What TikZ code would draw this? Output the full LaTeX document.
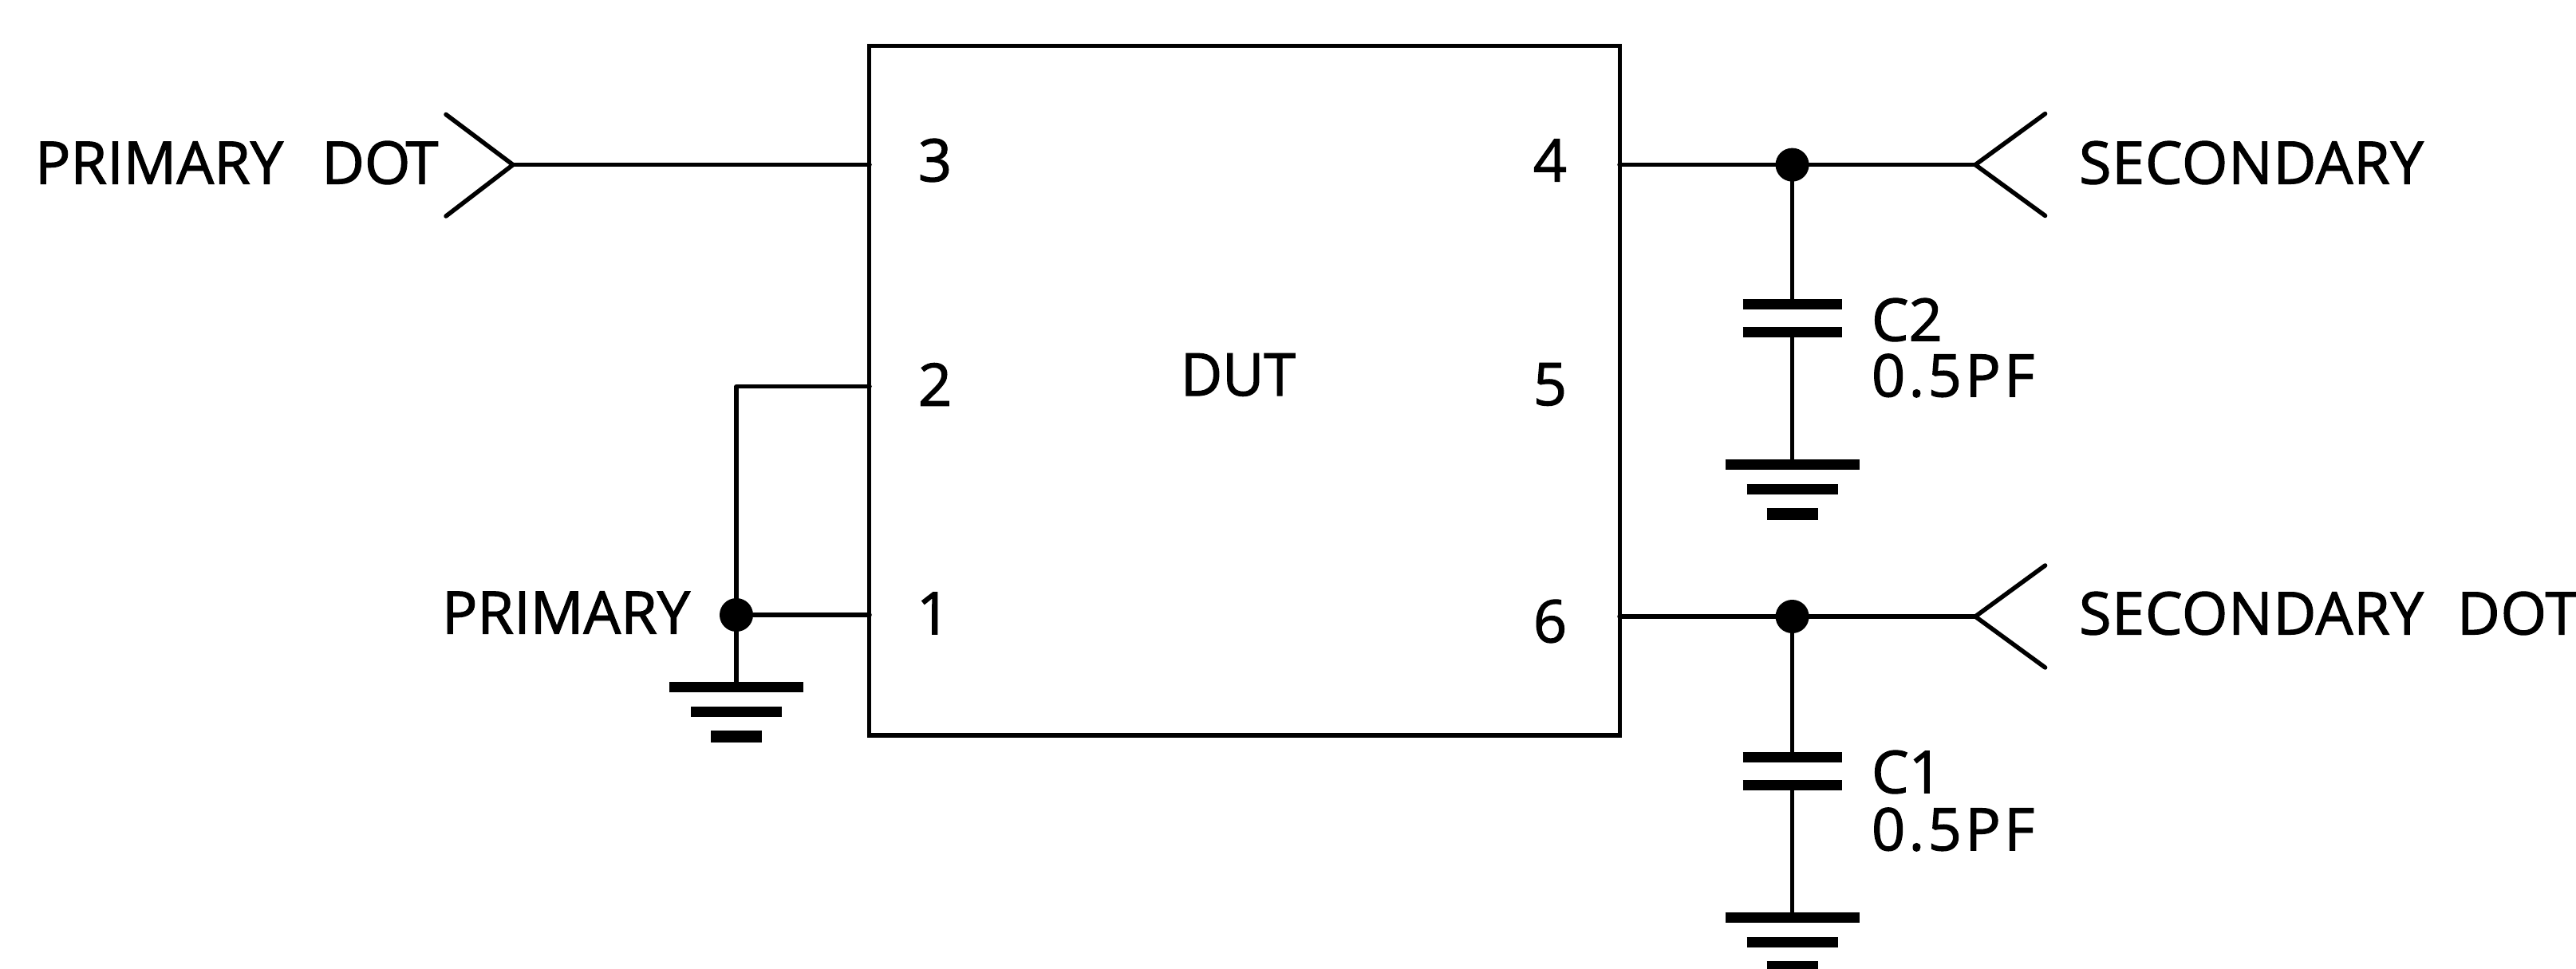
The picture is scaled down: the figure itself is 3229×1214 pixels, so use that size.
\documentclass[tikz,border=0pt]{standalone}
\usepackage{fontspec}
\setmainfont[FakeBold=1.6]{Open Sans}
\newfontfamily\wider[FakeBold=1.6,LetterSpace=6]{Open Sans}
\newfontfamily\slight[FakeBold=1.6,LetterSpace=1]{Open Sans}
\tikzset{
  x=0.01cm,y=-0.01cm,
  wire/.style={line width=0.055cm,line cap=round,line join=round},
  plate/.style={line width=0.13cm},
  lbl/.style={inner sep=0pt,outer sep=0pt,anchor=west,font=\fontsize{21}{21}\selectfont},
  pin/.style={inner sep=0pt,outer sep=0pt,font=\fontsize{21}{21}\selectfont},
  jdot/.style={circle,fill=black,draw=none,minimum size=0.42cm,inner sep=0pt,outer sep=0pt},
  dutbox/.style={draw,line width=0.055cm,minimum width=9.4cm,minimum height=8.64cm,inner sep=0pt,outer sep=0pt}
}
\newcommand{\gnd}[2]{%
  \draw[plate] (#1-84,#2) -- (#1+84,#2);
  \draw[plate] (#1-57,#2+31) -- (#1+57,#2+31);
  \draw[plate,line width=0.15cm] (#1-32,#2+62) -- (#1+32,#2+62);}
\newcommand{\capac}[2]{%
  \draw[plate] (#1-62,#2) -- (#1+62,#2);
  \draw[plate] (#1-62,#2+35) -- (#1+62,#2+35);}
\begin{document}
\begin{tikzpicture}
\useasboundingbox (0,0) rectangle (3229,1214);
\node[dutbox] (dut) at (1560,489.5) {};
\node[pin] (p3) at (1172,201) {3};
\node[pin] (p2) at (1172,482) {2};
\node[pin] (p1) at (1170,769) {1};
\node[pin] (p4) at (1943,201) {4};
\node[pin] (p5) at (1943,482) {5};
\node[pin] (p6) at (1943,779) {6};
\node[pin,xscale=0.97] (dutlabel) at (1552,470) {DUT};
\node[lbl] (lpd) at (44,204) {PRIMARY\hspace{0.48cm}DO\kern-0.06cm T};
\node[lbl] (lp) at (554,768) {PRIMARY};
\node[lbl] (ls) at (2606,204) {\slight SECONDARY};
\node[lbl] (lsd) at (2606,769) {\slight SECONDARY\hspace{0.42cm}DOT};
\node[lbl] (c2a) at (2346,401) {C2};
\node[lbl] (c2b) at (2346,471) {\wider 0.5PF};
\node[lbl] (c1a) at (2346,968) {C1};
\node[lbl] (c1b) at (2346,1040) {\wider 0.5PF};
% primary side
\coordinate (tipP) at (643,206.6);
\coordinate (w3) at (1090,206.6);
\coordinate (w2) at (1090,484.7);
\coordinate (w2c) at (923,484.7);
\coordinate (w1) at (1090,771);
\coordinate (gA) at (923,861);
\node[jdot] (jP) at (923,771) {};
\draw[wire] (559,143.5) -- (tipP) -- (559,271);
\draw[wire] (tipP) -- (w3);
\draw[wire] (w2) -- (w2c) -- (jP.center);
\draw[wire] (jP) -- (w1);
\draw[wire] (jP) -- (gA);
\gnd{923}{861}
% secondary 4
\coordinate (tipS) at (2476,206.6);
\coordinate (w4) at (2030,206.6);
\node[jdot] (jS) at (2246.6,206.6) {};
\coordinate (c2t) at (2246.6,381);
\coordinate (c2m) at (2246.6,416);
\coordinate (g2) at (2246.6,582);
\draw[wire] (w4) -- (tipS);
\draw[wire] (2563.6,142.6) -- (tipS) -- (2563.6,270.5);
\draw[wire] (jS) -- (c2t);
\draw[wire] (c2m) -- (g2);
\capac{2246.6}{381}
\gnd{2246.6}{582}
% secondary 6
\coordinate (tipD) at (2476,773);
\coordinate (w6) at (2030,773);
\node[jdot] (jD) at (2246.6,773) {};
\coordinate (c1t) at (2246.6,949);
\coordinate (c1m) at (2246.6,984);
\coordinate (g1) at (2246.6,1150);
\draw[wire] (w6) -- (tipD);
\draw[wire] (2563.6,709) -- (tipD) -- (2563.6,837);
\draw[wire] (jD) -- (c1t);
\draw[wire] (c1m) -- (g1);
\capac{2246.6}{949}
\gnd{2246.6}{1150}
\end{tikzpicture}
\end{document}
